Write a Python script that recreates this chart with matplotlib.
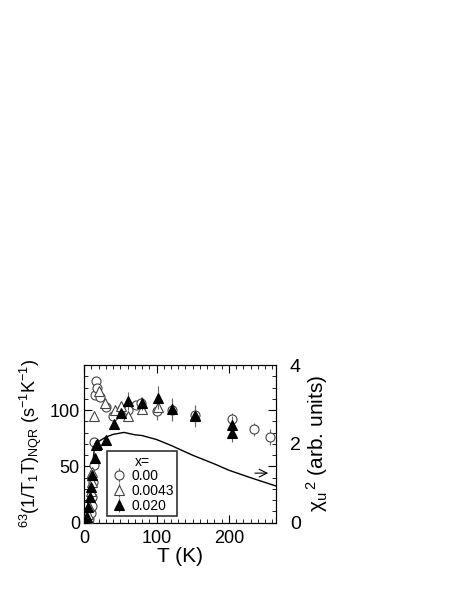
import matplotlib
matplotlib.use('Agg')
import matplotlib.pyplot as plt
from matplotlib.ticker import MultipleLocator

plt.rcParams['font.family'] = ['Liberation Sans', 'DejaVu Sans']
plt.rcParams['mathtext.default'] = 'regular'

# x = 0.00 (open circles)
T0 = [6, 7, 9, 10.5, 11, 12.5, 13, 14, 14.4, 17, 17.5, 22, 30.7, 40.4, 52, 61, 71.6, 78.5, 101, 121, 153, 204, 235, 256]
v0 = [0.5, 3, 8.6, 15, 23, 36, 51, 72, 113, 126, 120, 112, 103, 94.7, 100.6, 100, 104.5, 106, 99.4, 100, 95.6, 91.7, 82.8, 76.3]
e0 = [0, 0, 0, 0, 0, 0, 0, 0, 0, 0, 0, 0, 0, 0, 0, 6, 0, 6, 8, 9, 8, 6, 6, 7]

# x = 0.0043 (open triangles)
T1 = [3, 5, 7, 9, 10.5, 11.6, 14, 20, 29, 42, 51, 61, 80, 102, 153]
v1 = [2, 8, 15, 28, 36, 45, 94.5, 117, 106, 100, 104, 95, 100.5, 103, 96]
e1 = [0, 0, 0, 0, 0, 0, 0, 0, 0, 0, 0, 0, 0, 0, 0]

# x = 0.020 (filled triangles)
T2 = [2, 3.5, 6, 8, 9.3, 10.7, 15, 17, 18.5, 30, 41.8, 51, 60.4, 80.4, 102, 122, 153, 204, 204]
v2 = [1, 5, 14, 23, 32, 42, 57, 69, 69.5, 73.4, 87.3, 97.6, 108, 106, 111, 100.6, 94.7, 86.7, 80]
e2 = [0, 0, 0, 0, 0, 0, 0, 0, 0, 0, 0, 0, 8, 6, 10, 10, 10, 8, 8]

# chi_u^2 curve (right axis, arb. units)
TL = [1, 5, 10, 15, 20, 30, 40, 55, 70, 80, 100, 120, 150, 180, 200, 230, 265]
chiL = [0, 0.43, 1.2, 2.0, 2.06, 2.17, 2.24, 2.29, 2.23, 2.21, 2.11, 1.96, 1.71, 1.49, 1.33, 1.14, 0.93]

fig = plt.figure(figsize=(4.57, 5.91), dpi=100)
ax = fig.add_axes([0.184, 0.1156, 0.42, 0.2668])
ax2 = ax.twinx()

ax2.plot(TL, chiL, color='black', lw=1)

ax.errorbar(T0, v0, yerr=e0, fmt='o', mfc='white', mec='#444444', ecolor='#666666',
            ms=6.5, mew=0.8, elinewidth=0.8, capsize=0, label='0.00', zorder=3)
ax.errorbar(T1, v1, yerr=e1, fmt='^', mfc='white', mec='#444444', ecolor='#666666',
            ms=6.5, mew=0.8, elinewidth=0.8, capsize=0, label='0.0043', zorder=3)
ax.errorbar(T2, v2, yerr=e2, fmt='^', mfc='black', mec='black', ecolor='#666666',
            ms=6.5, mew=0.8, elinewidth=0.8, capsize=0, label='0.020', zorder=4)

ax.set_xlim(0, 265)
ax.set_ylim(0, 140)
ax2.set_ylim(0, 4)
ax.set_zorder(ax2.get_zorder() + 1)
ax.patch.set_visible(False)

ax.xaxis.set_major_locator(MultipleLocator(100))
ax.xaxis.set_minor_locator(MultipleLocator(10))
ax.yaxis.set_major_locator(MultipleLocator(50))
ax.yaxis.set_minor_locator(MultipleLocator(10))
ax.tick_params(which='both', direction='in', top=True, right=True, labelsize=13)
ax.tick_params(axis='x', pad=5)
ax.tick_params(axis='y', pad=3)
ax.tick_params(which='major', length=6)
ax.tick_params(which='minor', length=3)

ax2.set_yticks([0, 2, 4])
ax2.tick_params(length=0, labelsize=14, pad=10)

ax.set_xlabel('T (K)', fontsize=15, labelpad=0)
ax.set_ylabel(r'$^{63}$(1/T$_1$T)$_{NQR}$ (s$^{-1}$K$^{-1}$)', fontsize=13, labelpad=4)
ax2.set_ylabel(r'$\chi_u$$^{\,2}$ (arb. units)', fontsize=15, labelpad=2)

ax.annotate('', xy=(258, 44), xytext=(232, 44),
            arrowprops=dict(arrowstyle='->', color='black', lw=0.8, mutation_scale=14))

leg = ax.legend(title='x=', loc='lower left', bbox_to_anchor=(0.12, 0.042), fontsize=10,
                title_fontsize=10, frameon=True, fancybox=False, edgecolor='black',
                handletextpad=0.3, borderpad=0.25, labelspacing=0.05, handlelength=1.2,
                borderaxespad=0)
leg.get_frame().set_linewidth(1.2)

plt.savefig('out.png', dpi=100)
